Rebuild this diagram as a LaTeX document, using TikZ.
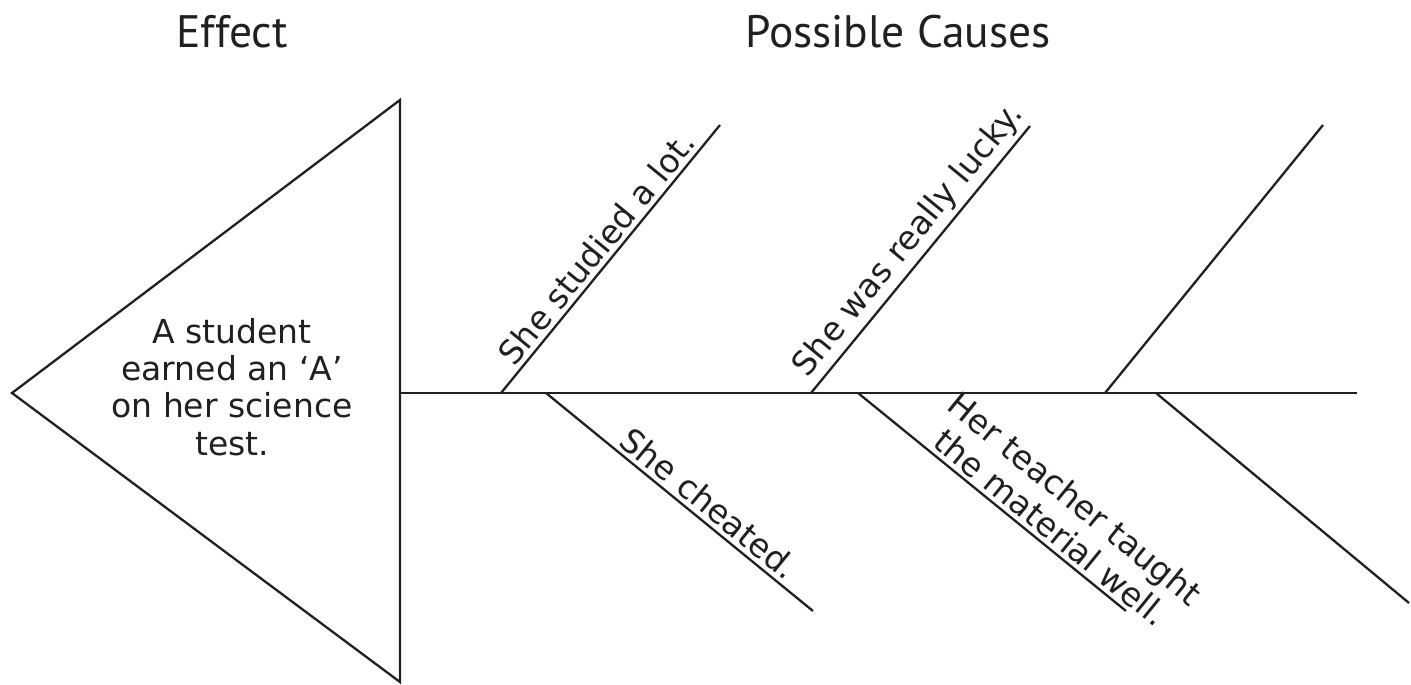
\documentclass[tikz,border=0pt]{standalone}
\usepackage{fontspec}
\setmainfont{DejaVu Sans}
\newfontfamily\titlefont{PT Sans}
\definecolor{ink}{HTML}{231F20}
\begin{document}
\begin{tikzpicture}[x=1pt,y=-1pt,
  bone/.style={line width=2.3pt, draw=ink},
  lbl/.style={font=\fontsize{33}{37.3}\selectfont, text=ink, inner sep=4pt},
  ttl/.style={font=\titlefont\fontsize{45.5}{52}\selectfont, text=ink}]
\useasboundingbox (0,0) rectangle (1411,685);
% triangle (head)
\coordinate (L) at (12,393);
\coordinate (T) at (400,100);
\coordinate (B) at (400,682);
\coordinate (S0) at (400,393);
\coordinate (S1) at (1357,393);
\draw[bone, line join=miter] (L) -- (T) -- (B) -- cycle;
\draw[bone] (S0) -- (S1);
% titles
\node[ttl] (eff) at (232,32) {Effect};
\node[ttl] (pc) at (898,32) {Possible Causes};
% effect text
\node[lbl, align=center, anchor=north, inner sep=0pt] (effect) at (232,318)
  {A student\\earned an ‘A’\\on her science\\test.};
% upper bones
\coordinate (u1a) at (501,393); \coordinate (u1b) at (720,125);
\coordinate (u2a) at (811,393); \coordinate (u2b) at (1030,126);
\coordinate (u3a) at (1105,393); \coordinate (u3b) at (1323,125);
% lower bones
\coordinate (d1a) at (546,393); \coordinate (d1b) at (813,611);
\coordinate (d2a) at (858,393); \coordinate (d2b) at (1126,611);
\coordinate (d3a) at (1156,393); \coordinate (d3b) at (1409,603);
\draw[bone] (u1a) -- (u1b) node[lbl, sloped, above, pos=0.5] (c1) {She studied a lot.};
\draw[bone] (u2a) -- (u2b) node[lbl, sloped, above, pos=0.52] (c2) {She was really lucky.};
\draw[bone] (u3a) -- (u3b);
\draw[bone] (d1a) -- (d1b) node[lbl, sloped, above, pos=0.57] (c3) {She cheated.};
\draw[bone] (d2a) -- (d2b) node[lbl, sloped, above, pos=0.68, align=center] (c4) {Her teacher taught\\the material well.};
\draw[bone] (d3a) -- (d3b);
\end{tikzpicture}
\end{document}
